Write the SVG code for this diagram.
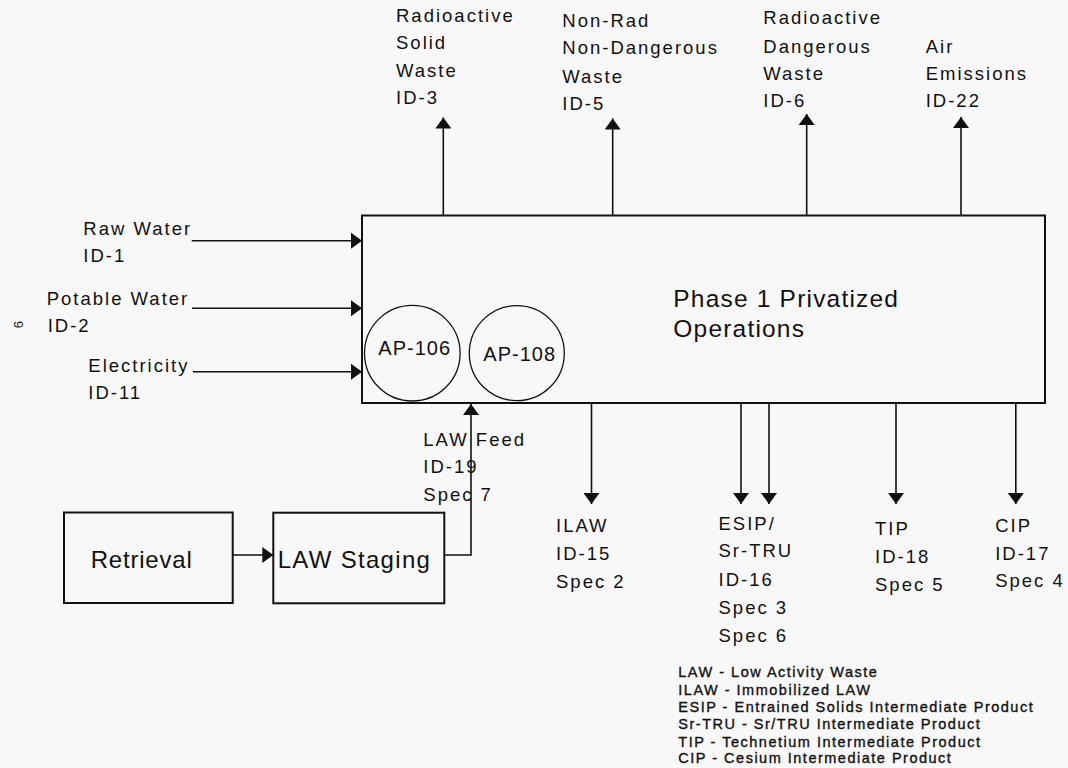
<svg xmlns="http://www.w3.org/2000/svg" width="1068" height="768" viewBox="0 0 1068 768">
  <style>
    text { font-family: "Liberation Sans", Arial, Helvetica, sans-serif; fill: #111; }
    .lbl { font-size: 18.5px; letter-spacing: 2px; }
    .big { font-size: 24.5px; letter-spacing: 1.2px; }
    .ap { font-size: 20px; letter-spacing: 1px; }
    .key { font-size: 14.5px; letter-spacing: 1.5px; stroke: #111; stroke-width: 0.35px; }
    .box { fill: #f8f8f8; stroke: #111; stroke-width: 2; }
    .tank { fill: none; stroke: #111; stroke-width: 1.3; }
    .flow { fill: none; stroke: #111; stroke-width: 1.6; marker-end: url(#head); }
  </style>
  <defs>
    <marker id="head" markerUnits="userSpaceOnUse" markerWidth="12" markerHeight="16" refX="11" refY="8" orient="auto">
      <path d="M0,0 L11,8 L0,16 Z" fill="#111"/>
    </marker>
  </defs>

  <rect width="1068" height="768" fill="#f8f8f8"/>

  <!-- page number -->
  <text x="0" y="0" font-size="13" transform="translate(14,321) rotate(90)">9</text>

  <!-- main process block -->
  <g id="phase1">
    <rect class="box" x="362" y="215.5" width="683" height="187.5"/>
    <text class="big" x="673.3" y="306.7">Phase 1 Privatized</text>
    <text class="big" x="673.3" y="336.7">Operations</text>
  </g>

  <g id="ap106">
    <circle class="tank" cx="412.3" cy="353.2" r="47.8"/>
    <text class="ap" x="378.3" y="355">AP-106</text>
  </g>
  <g id="ap108">
    <circle class="tank" cx="516.8" cy="353.2" r="47.5"/>
    <text class="ap" x="483.3" y="360.7">AP-108</text>
  </g>

  <g id="retrieval">
    <rect class="box" x="64" y="512.5" width="168.7" height="90.5" stroke-width="1.6"/>
    <text x="90.7" y="568.3" font-size="24" letter-spacing="0.8">Retrieval</text>
  </g>
  <g id="law-staging">
    <rect class="box" x="273.3" y="512.7" width="171" height="90.6" stroke-width="1.6"/>
    <text x="277.7" y="568.3" font-size="24" letter-spacing="1.3">LAW Staging</text>
  </g>

  <!-- flow lines -->
  <g id="connectors">
    <path class="flow" d="M191.7,240.7 H362"/>
    <path class="flow" d="M192,308.3 H362"/>
    <path class="flow" d="M193,371.7 H362"/>

    <path class="flow" d="M443.3,215 V117.5"/>
    <path class="flow" d="M612.7,215 V118.5"/>
    <path class="flow" d="M806.7,215 V114"/>
    <path class="flow" d="M961,215 V117"/>

    <path class="flow" d="M591.5,403 V504"/>
    <path class="flow" d="M741,403 V504"/>
    <path class="flow" d="M769,403 V504"/>
    <path class="flow" d="M896,403 V504"/>
    <path class="flow" d="M1015.8,403 V504"/>

    <path class="flow" d="M232.7,555 H273.3"/>
    <path class="flow" d="M444.3,555 H471 V404"/>
  </g>

  <!-- inputs -->
  <g id="raw-water">
    <text class="lbl" x="83.3" y="235">Raw Water</text>
    <text class="lbl" x="83.3" y="261.7">ID-1</text>
  </g>
  <g id="potable-water">
    <text class="lbl" x="46.7" y="305">Potable Water</text>
    <text class="lbl" x="47.7" y="331.7">ID-2</text>
  </g>
  <g id="electricity">
    <text class="lbl" x="88.3" y="371.7">Electricity</text>
    <text class="lbl" x="88.3" y="399.3">ID-11</text>
  </g>
  <g id="law-feed">
    <text class="lbl" x="423.3" y="446">LAW Feed</text>
    <text class="lbl" x="423.3" y="473.3">ID-19</text>
    <text class="lbl" x="423.3" y="501">Spec 7</text>
  </g>

  <!-- upward outputs -->
  <g id="rad-solid-waste">
    <text class="lbl" x="396" y="21.7">Radioactive</text>
    <text class="lbl" x="396" y="49.3">Solid</text>
    <text class="lbl" x="396" y="76.7">Waste</text>
    <text class="lbl" x="396" y="104.3">ID-3</text>
  </g>
  <g id="nonrad-waste">
    <text class="lbl" x="562.3" y="26.7">Non-Rad</text>
    <text class="lbl" x="562.3" y="54.3">Non-Dangerous</text>
    <text class="lbl" x="562.3" y="82.7">Waste</text>
    <text class="lbl" x="562.3" y="110">ID-5</text>
  </g>
  <g id="rad-dangerous-waste">
    <text class="lbl" x="763.3" y="24.3">Radioactive</text>
    <text class="lbl" x="763.3" y="52.7">Dangerous</text>
    <text class="lbl" x="763.3" y="80">Waste</text>
    <text class="lbl" x="763.3" y="107.3">ID-6</text>
  </g>
  <g id="air-emissions">
    <text class="lbl" x="925.7" y="52.7">Air</text>
    <text class="lbl" x="925.7" y="80">Emissions</text>
    <text class="lbl" x="925.7" y="107.3">ID-22</text>
  </g>

  <!-- downward products -->
  <g id="ilaw">
    <text class="lbl" x="556" y="532.2">ILAW</text>
    <text class="lbl" x="556" y="560">ID-15</text>
    <text class="lbl" x="556" y="588">Spec 2</text>
  </g>
  <g id="esip">
    <text class="lbl" x="718.5" y="529.8">ESIP/</text>
    <text class="lbl" x="718.5" y="557.4">Sr-TRU</text>
    <text class="lbl" x="718.5" y="586">ID-16</text>
    <text class="lbl" x="718.5" y="614">Spec 3</text>
    <text class="lbl" x="718.5" y="642">Spec 6</text>
  </g>
  <g id="tip">
    <text class="lbl" x="875" y="534.9">TIP</text>
    <text class="lbl" x="875" y="562.8">ID-18</text>
    <text class="lbl" x="875" y="591.4">Spec 5</text>
  </g>
  <g id="cip">
    <text class="lbl" x="995.2" y="531.5">CIP</text>
    <text class="lbl" x="995.2" y="559.5">ID-17</text>
    <text class="lbl" x="995.2" y="587">Spec 4</text>
  </g>

  <!-- acronym key -->
  <g id="legend">
    <text class="key" x="678.3" y="677.3">LAW - Low Activity Waste</text>
    <text class="key" x="678.3" y="695">ILAW - Immobilized LAW</text>
    <text class="key" x="678.3" y="712.3">ESIP - Entrained Solids Intermediate Product</text>
    <text class="key" x="678.3" y="729.3">Sr-TRU - Sr/TRU Intermediate Product</text>
    <text class="key" x="678.3" y="746.7">TIP - Technetium Intermediate Product</text>
    <text class="key" x="678.3" y="763.3">CIP - Cesium Intermediate Product</text>
  </g>
</svg>
